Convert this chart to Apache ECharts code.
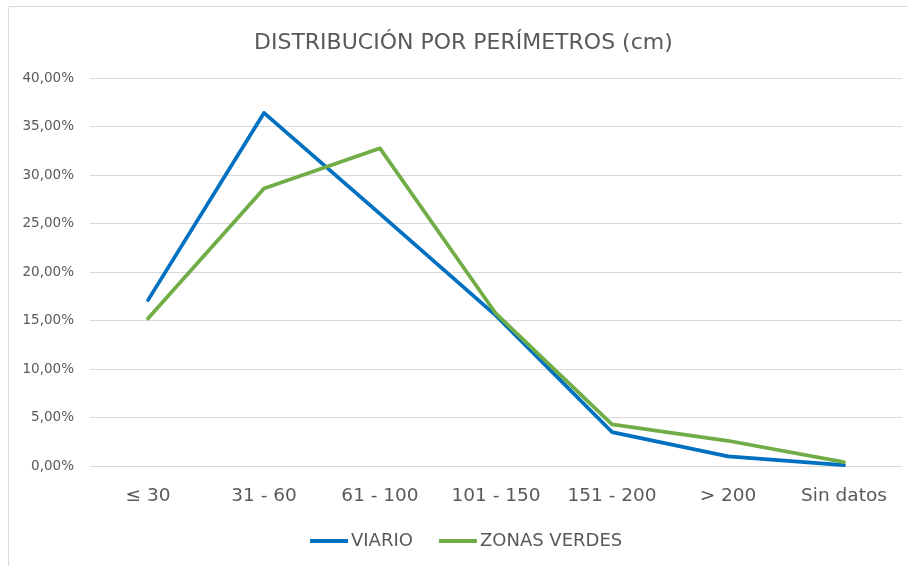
<!DOCTYPE html>
<html>
<head>
<meta charset="utf-8">
<script src="https://cdn.jsdelivr.net/npm/echarts@6/dist/echarts.min.js"></script>
<style>
html,body{margin:0;padding:0;background:#fff;}
#chart{width:908px;height:566px;}
</style>
</head>
<body>
<div id="chart"></div>
<script>
var categories = ['≤ 30', '31 - 60', '61 - 100', '101 - 150', '151 - 200', '> 200', 'Sin datos'];
var viario = [17.1, 36.4, 26.0, 15.5, 3.5, 1.0, 0.1];
var zonasVerdes = [15.2, 28.6, 32.75, 15.7, 4.3, 2.6, 0.4];
var yTicks = [0, 5, 10, 15, 20, 25, 30, 35, 40];

var FONT = 'DejaVu Sans';
var chart = echarts.init(document.getElementById('chart'));
chart.setOption({
  backgroundColor: '#ffffff',
  animation: false,
  graphic: [{
    type: 'rect',
    shape: {x: 8.5, y: 6.5, width: 1000, height: 1000},
    style: {fill: 'none', stroke: '#d9d9d9', lineWidth: 1},
    silent: true
  }],
  title: {
    text: 'DISTRIBUCIÓN POR PERÍMETROS (cm)',
    left: 249,
    top: 27,
    textStyle: {fontFamily: FONT, fontSize: 22, fontWeight: 'normal', color: '#595959'}
  },
  legend: {
    bottom: 11,
    left: 305,
    itemWidth: 38,
    itemHeight: 4,
    itemGap: 26,
    icon: 'rect',
    textStyle: {fontFamily: FONT, fontSize: 18, color: '#595959', padding: [0, 0, 0, -2]},
    data: ['VIARIO', 'ZONAS VERDES']
  },
  grid: {left: 90, right: 6, top: 78, bottom: 100, containLabel: false},
  xAxis: {
    type: 'category',
    data: categories,
    boundaryGap: true,
    axisLine: {lineStyle: {color: '#d9d9d9', width: 1}},
    axisTick: {show: false},
    axisLabel: {fontFamily: FONT, fontSize: 18.5, color: '#595959', margin: 21}
  },
  yAxis: {
    type: 'value',
    min: yTicks[0],
    max: yTicks[yTicks.length - 1],
    interval: 5,
    axisLine: {show: false},
    axisTick: {show: false},
    splitLine: {lineStyle: {color: '#d9d9d9', width: 1}},
    axisLabel: {
      fontFamily: FONT, fontSize: 13.5, color: '#595959', margin: 16,
      formatter: function (v) { return v.toFixed(2).replace('.', ',') + '%'; }
    }
  },
  series: [{
    name: 'VIARIO',
    type: 'line',
    data: viario,
    symbol: 'none',
    color: '#0070C0',
    lineStyle: {width: 3.75, color: '#0070C0', cap: 'round', join: 'round'}
  }, {
    name: 'ZONAS VERDES',
    type: 'line',
    data: zonasVerdes,
    symbol: 'none',
    color: '#70AD47',
    lineStyle: {width: 3.75, color: '#70AD47', cap: 'round', join: 'round'}
  }]
});
</script>
</body>
</html>
